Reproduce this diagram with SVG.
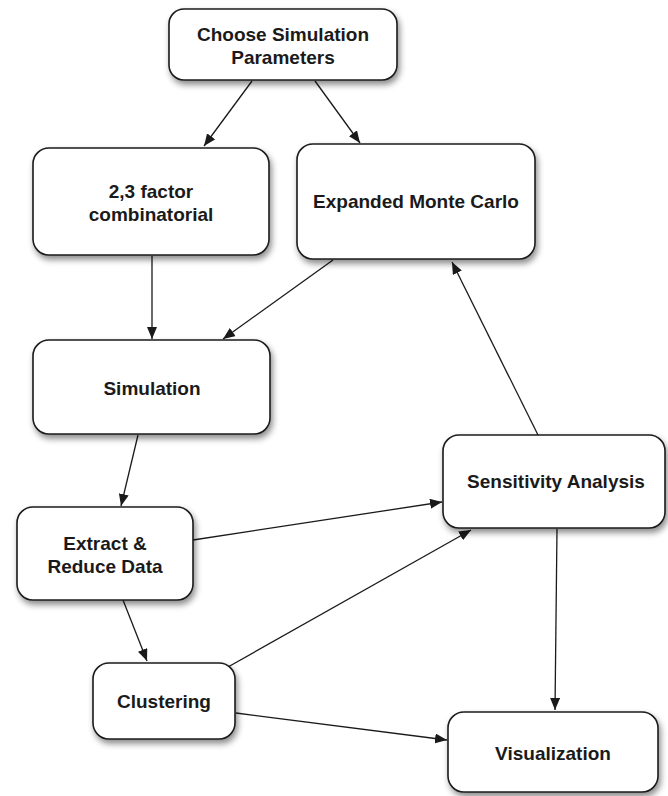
<svg xmlns="http://www.w3.org/2000/svg" width="668" height="796" viewBox="0 0 668 796">
<style>
.box{fill:#fff;stroke:#1a1a1a;stroke-width:1.6;filter:url(#sh)}
.lbl{font-family:"Liberation Sans",Arial,sans-serif;font-weight:bold;font-size:19px;fill:#1a1a1a;text-anchor:middle}
.edge{stroke:#1a1a1a;stroke-width:1.3;fill:none;marker-end:url(#ah)}
</style>
<defs>
<filter id="sh" x="-10%" y="-10%" width="125%" height="130%">
<feDropShadow dx="2" dy="4" stdDeviation="3" flood-color="#000" flood-opacity="0.45"/>
</filter>
<marker id="ah" viewBox="0 0 12 10" refX="12" refY="5" markerWidth="12" markerHeight="10" markerUnits="userSpaceOnUse" orient="auto">
<path d="M0,0 L12,5 L0,10 z" fill="#1a1a1a"/>
</marker>
</defs>
<rect width="668" height="796" fill="#fff"/>
<g id="connectors">
<line class="edge" x1="252" y1="81" x2="204" y2="146"/>
<line class="edge" x1="315" y1="81" x2="360" y2="143"/>
<line class="edge" x1="152" y1="256" x2="152" y2="339"/>
<line class="edge" x1="333" y1="260" x2="223" y2="339"/>
<line class="edge" x1="138" y1="435" x2="121" y2="506"/>
<line class="edge" x1="193" y1="540" x2="442" y2="502"/>
<line class="edge" x1="123" y1="600" x2="147" y2="661"/>
<line class="edge" x1="228" y1="667" x2="471" y2="530"/>
<line class="edge" x1="236" y1="713" x2="447" y2="740"/>
<line class="edge" x1="538" y1="435" x2="452" y2="262"/>
<line class="edge" x1="557" y1="529" x2="555" y2="710"/>
</g>
<g id="choose">
<rect class="box" x="169" y="9" width="228" height="71" rx="15"/>
<text class="lbl" x="283" y="41">Choose Simulation</text>
<text class="lbl" x="283" y="64">Parameters</text>
</g>
<g id="factor">
<rect class="box" x="33" y="148" width="236" height="107" rx="16"/>
<text class="lbl" x="151" y="198">2,3 factor</text>
<text class="lbl" x="151" y="221">combinatorial</text>
</g>
<g id="montecarlo">
<rect class="box" x="297" y="144" width="238" height="115" rx="16"/>
<text class="lbl" x="416" y="208">Expanded Monte Carlo</text>
</g>
<g id="simulation">
<rect class="box" x="33" y="340" width="237" height="94" rx="16"/>
<text class="lbl" x="152" y="395">Simulation</text>
</g>
<g id="sensitivity">
<rect class="box" x="443" y="435" width="222" height="93" rx="16"/>
<text class="lbl" x="556" y="488">Sensitivity Analysis</text>
</g>
<g id="extract">
<rect class="box" x="17" y="507" width="176" height="93" rx="16"/>
<text class="lbl" x="105" y="550">Extract &amp;</text>
<text class="lbl" x="105" y="573">Reduce Data</text>
</g>
<g id="clustering">
<rect class="box" x="93" y="663" width="142" height="76" rx="16"/>
<text class="lbl" x="164" y="708">Clustering</text>
</g>
<g id="visualization">
<rect class="box" x="448" y="712" width="210" height="80" rx="16"/>
<text class="lbl" x="553" y="760">Visualization</text>
</g>
</svg>
